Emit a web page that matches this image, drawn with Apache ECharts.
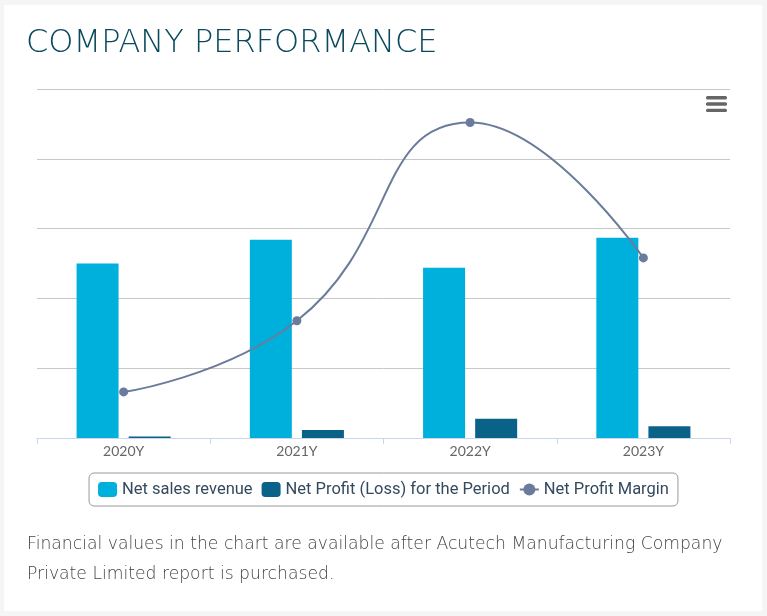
<!DOCTYPE html>
<html>
<head>
<meta charset="utf-8">
<script src="https://cdn.jsdelivr.net/npm/echarts@6/dist/echarts.min.js"></script>
<style>
html,body{margin:0;padding:0;background:#f5f5f5;}
#chart{width:767px;height:616px;}
</style>
</head>
<body>
<div id="chart"></div>
<script>
const categories = ['2020Y', '2021Y', '2022Y', '2023Y'];
const netSalesRevenue = [250, 284, 244, 287];
const netProfit = [2.0, 11.4, 27.6, 16.7];
const netProfitMargin = [3.3, 8.4, 22.6, 12.9];
const seriesNames = ['Net sales revenue', 'Net Profit (Loss) for the Period', 'Net Profit Margin'];
const titleText = 'COMPANY PERFORMANCE';
const footerText = 'Financial values in the chart are available after Acutech Manufacturing Company\nPrivate Limited report is purchased.';

const chart = echarts.init(document.getElementById('chart'));
chart.setOption({
  backgroundColor: '#f5f5f5',
  animation: false,
  title: {
    text: titleText,
    left: 21,
    top: 23,
    textStyle: { fontFamily: 'DejaVu Sans', fontWeight: 200, fontSize: 32, color: '#0b4a5e' }
  },
  graphic: [
    { type: 'rect', z: -10, shape: { x: 4, y: 5, width: 758, height: 606 }, style: { fill: '#ffffff' } },
    { type: 'rect', shape: { x: 706, y: 96, width: 21, height: 3.4, r: 1.5 }, style: { fill: '#666666' } },
    { type: 'rect', shape: { x: 706, y: 102.3, width: 21, height: 3.4, r: 1.5 }, style: { fill: '#666666' } },
    { type: 'rect', shape: { x: 706, y: 108.7, width: 21, height: 3.4, r: 1.5 }, style: { fill: '#666666' } },
    { type: 'text', left: 27, top: 530, style: { text: footerText, fontFamily: 'DejaVu Sans', fontWeight: 200, fontSize: 17.2, lineHeight: 30, fill: '#444444' } }
  ],
  legend: {
    left: 'center',
    top: 473,
    data: seriesNames,
    itemWidth: 19,
    itemHeight: 15,
    itemGap: 9,
    padding: [8, 9],
    borderColor: '#999999',
    borderWidth: 1,
    borderRadius: 5,
    textStyle: { fontFamily: 'Roboto', fontSize: 16.5, color: '#34495e' }
  },
  grid: { left: 37, right: 37, top: 89, bottom: 178 },
  xAxis: {
    type: 'category',
    data: categories,
    axisLine: { lineStyle: { color: '#ccd6eb', width: 1 } },
    axisTick: { show: true, length: 6, lineStyle: { color: '#ccd6eb' } },
    axisLabel: { fontFamily: 'Lato', fontSize: 14, color: '#666666', margin: 6 }
  },
  yAxis: [
    {
      type: 'value', min: 0, max: 500, interval: 100,
      axisLabel: { show: false }, axisLine: { show: false }, axisTick: { show: false },
      splitLine: { lineStyle: { color: '#c8c8c8', width: 1 } }
    },
    { type: 'value', min: 0, max: 25, interval: 5, show: false, splitLine: { show: false } }
  ],
  series: [
    {
      name: seriesNames[0], type: 'bar', data: netSalesRevenue,
      barWidth: 42, barGap: '24%',
      itemStyle: { color: '#00b0dc' }
    },
    {
      name: seriesNames[1], type: 'bar', data: netProfit,
      barWidth: 42,
      itemStyle: { color: '#0a6288' }
    },
    {
      name: seriesNames[2], type: 'line', yAxisIndex: 1, data: netProfitMargin,
      smooth: 0.5, symbol: 'circle', symbolSize: 9, z: 5,
      lineStyle: { color: '#6a7b9b', width: 2 },
      itemStyle: { color: '#6a7b9b' }
    }
  ]
});
</script>
</body>
</html>
